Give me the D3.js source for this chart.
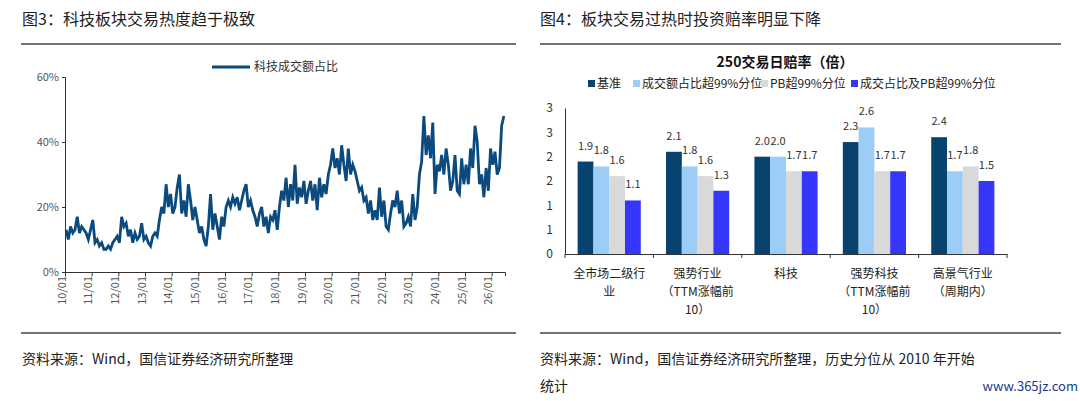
<!DOCTYPE html>
<html><head><meta charset="utf-8">
<script src="https://cdn.jsdelivr.net/npm/d3@7"></script>
<style>
body{margin:0;background:#fff;font-family:"Noto Sans CJK SC",sans-serif}
text{font-family:"Noto Sans CJK SC",sans-serif}
</style></head><body>
<script>
// left chart: monthly share of tech turnover (%), 2010/01 .. 2026/06
var shareYears = [2010,2011,2012,2013,2014,2015,2016,2017,2018,2019,2020,2021,2022,2023,2024,2025,2026];
var shareValues = [
 [13,10,14,12,13,17,12,14,13,12,10,13],
 [16,9,10,8,9,7,7,8,7,9,10,11],
 [9,17,14,15,11,13,9,12,10,11,15,10],
 [11,9,8,11,12,11,16,20,18,27,20,24],
 [18,20,26,30,18,22,17,27,22,16,20,16],
 [12,14,10,8,14,24,13,18,14,10,17,14],
 [20,22,20,23,21,23,19,22,25,27,20,22],
 [19,17,14,18,20,14,17,12,17,16,19,13],
 [20,25,22,29,20,27,22,33,21,26,23,28],
 [21,25,28,22,27,19,29,23,27,24,30,33],
 [38,32,35,30,39,33,28,38,30,33,31,28],
 [25,26,22,23,18,22,16,19,16,26,17,22],
 [14,13,18,22,20,25,18,22,14,15,17,14],
 [24,16,20,30,34,48,36,42,35,46,24,33],
 [31,36,30,38,33,25,28,36,25,24,35,27],
 [33,27,38,32,45,40,27,30,23,32,25,38],
 [33,37,30,32,45,48]
];
var shareTicks = [0,20,40,60];

// right chart: odds over 250 trading days
var groups = ["全市场二级行业","强势行业（TTM涨幅前10）","科技","强势科技（TTM涨幅前10）","高景气行业（周期内）"];
var groupLines = [["全市场二级行","业"],["强势行业","（TTM涨幅前","10）"],["科技"],["强势科技","（TTM涨幅前","10）"],["高景气行业","（周期内）"]];
var seriesNames = ["基准","成交额占比超99%分位","PB超99%分位","成交占比及PB超99%分位"];
var seriesColors = ["#08426f","#9ccdf6","#d9d9d9","#3535fb"];
var oddsValues = [
 [1.9,1.8,1.6,1.1],
 [2.1,1.8,1.6,1.3],
 [2.0,2.0,1.7,1.7],
 [2.3,2.6,1.7,1.7],
 [2.4,1.7,1.8,1.5]
];
var oddsTicks = [0,0.5,1,1.5,2,2.5,3];

var svg = d3.select("body").append("svg").attr("width",1080).attr("height",401);

// frame: titles, rules, sources
svg.append("text").attr("x",22).attr("y",25).attr("font-size",16).attr("fill","#222").text("图3：科技板块交易热度趋于极致");
svg.append("text").attr("x",540).attr("y",25).attr("font-size",16).attr("fill","#222").text("图4：板块交易过热时投资赔率明显下降");
[[21,516],[540,1061]].forEach(function(r){
  svg.append("line").attr("x1",r[0]).attr("x2",r[1]).attr("y1",44).attr("y2",44).attr("stroke","#444").attr("stroke-width",1.5);
  svg.append("line").attr("x1",r[0]).attr("x2",r[1]).attr("y1",333).attr("y2",333).attr("stroke","#444").attr("stroke-width",1.5);
});
svg.append("text").attr("x",22).attr("y",364).attr("font-size",14).attr("fill","#222").text("资料来源：Wind，国信证券经济研究所整理");
svg.append("text").attr("x",540).attr("y",364).attr("font-size",14).attr("fill","#222").text("资料来源：Wind，国信证券经济研究所整理，历史分位从 2010 年开始");
svg.append("text").attr("x",540).attr("y",391).attr("font-size",14).attr("fill","#222").text("统计");
svg.append("text").attr("x",1078).attr("y",391).attr("text-anchor","end").attr("font-size",13).attr("fill","#1a3a8a").attr("font-family","Liberation Serif").text("www.365jz.com");

// ---- left line chart
var data = [];
shareValues.forEach(function(row,i){
  row.forEach(function(v,m){ data.push({t: shareYears[i] + m/12 + 1/24, v: v}); });
});
var x = d3.scaleLinear().domain([2010, 2026.5]).range([65, 505]);
var y = d3.scaleLinear().domain([0, 60]).range([272, 77]);
var gl = svg.append("g");
gl.append("path").datum(data)
  .attr("fill","none").attr("stroke","#0b4a7e").attr("stroke-width",2.8)
  .attr("d", d3.line().x(function(d){return x(d.t);}).y(function(d){return y(d.v);}));
var yAx = gl.append("g").attr("transform","translate(65,0)")
  .call(d3.axisLeft(y).tickValues(shareTicks).tickSize(3).tickFormat(function(d){return d+"%";}));
var xAx = gl.append("g").attr("transform","translate(0,272)")
  .call(d3.axisBottom(x).tickValues(shareYears).tickSize(4).tickFormat(function(d){return String(d).slice(2)+"/01";}));
xAx.selectAll("text").attr("transform","rotate(-90)").attr("text-anchor","end").attr("dx","-4").attr("dy","-0.35em").attr("x",0).attr("y",4);
[yAx,xAx].forEach(function(a){
  a.select(".domain").attr("stroke","#333");
  a.selectAll("line").attr("stroke","#333");
  a.selectAll("text").attr("font-size",11).attr("fill","#555").attr("font-family","Liberation Sans");
});
gl.append("line").attr("x1",212).attr("x2",250).attr("y1",67).attr("y2",67).attr("stroke","#0b4a7e").attr("stroke-width",3);
gl.append("text").attr("x",254).attr("y",71).attr("font-size",12).attr("fill","#333").text("科技成交额占比");

// ---- right bar chart
var gr = svg.append("g");
var x0 = d3.scaleBand().domain(groups).range([565,1007]);
var x1 = d3.scaleBand().domain(seriesNames).range([0, x0.bandwidth()]).paddingOuter(0.8);
var yr = d3.scaleLinear().domain([0,3]).range([254,108]);
gr.append("text").attr("x",785).attr("y",67).attr("text-anchor","middle").attr("font-size",14).attr("font-weight","bold").attr("fill","#111").text("250交易日赔率（倍）");
var lg = gr.append("g");
var lx = [588, 633, 761, 851];
seriesNames.forEach(function(s,i){
  lg.append("rect").attr("x",lx[i]).attr("y",80).attr("width",7).attr("height",7).attr("fill",seriesColors[i]);
  lg.append("text").attr("x",lx[i]+9).attr("y",88).attr("font-size",12).attr("fill","#222").text(s);
});
var grp = gr.selectAll(".grp").data(groups).enter().append("g")
  .attr("transform",function(d){return "translate("+x0(d)+",0)";});
grp.selectAll("rect").data(function(d,i){return oddsValues[i].map(function(v,j){return {s:seriesNames[j],v:v,c:seriesColors[j]};});})
  .enter().append("rect")
  .attr("x",function(d){return x1(d.s);}).attr("width",x1.bandwidth())
  .attr("y",function(d){return yr(d.v);}).attr("height",function(d){return 254-yr(d.v);})
  .attr("fill",function(d){return d.c;});
grp.selectAll(".lbl").data(function(d,i){return oddsValues[i].map(function(v,j){return {s:seriesNames[j],v:v};});})
  .enter().append("text")
  .attr("x",function(d){return x1(d.s)+x1.bandwidth()/2;})
  .attr("y",function(d){return yr(d.v)-12;})
  .attr("text-anchor","middle").attr("font-size",11).attr("fill","#333")
  .attr("font-family","DejaVu Sans Mono")
  .text(function(d){return d.v.toFixed(1);});
var ya = gr.append("g").attr("transform","translate(565,0)")
  .call(d3.axisLeft(yr).tickValues(oddsTicks).tickSize(0).tickPadding(12).tickFormat(d3.format(".0f")));
var xa = gr.append("g").attr("transform","translate(0,254)")
  .call(d3.axisBottom(x0).tickSize(0).tickFormat(""));
xa.selectAll(".tk").data(d3.range(groups.length+1)).enter().append("line")
  .attr("x1",function(i){return 565+i*x0.step();}).attr("x2",function(i){return 565+i*x0.step();})
  .attr("y1",0).attr("y2",4).attr("stroke","#333");
[ya,xa].forEach(function(a){ a.select(".domain").attr("stroke","#333"); });
ya.selectAll("text").attr("font-size",12).attr("fill","#333").attr("font-family","Liberation Sans");
grp.each(function(d,i){
  var g = d3.select(this);
  groupLines[i].forEach(function(l,k){
    g.append("text").attr("x",x0.bandwidth()/2).attr("y",278+k*18).attr("text-anchor","middle")
      .attr("font-size",12).attr("fill","#222").text(l);
  });
});
</script></body></html>
